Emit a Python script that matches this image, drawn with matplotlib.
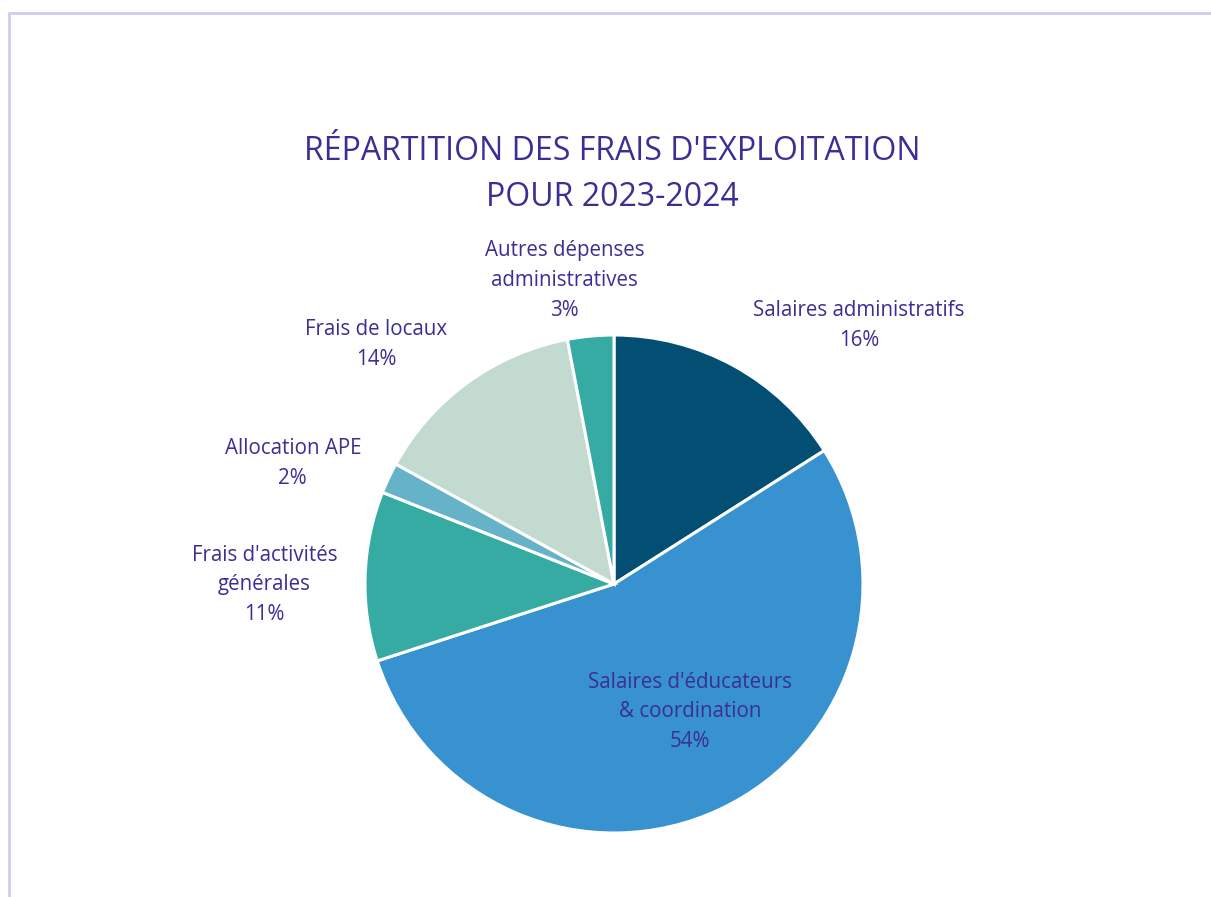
import matplotlib
matplotlib.use("Agg")
import matplotlib.pyplot as plt
from matplotlib.patches import Rectangle

# donnees
categories = ["Salaires administratifs", "Salaires d'éducateurs\n& coordination",
              "Frais d'activités\ngénérales", "Allocation APE",
              "Frais de locaux", "Autres dépenses\nadministratives"]
values = [16, 54, 11, 2, 14, 3]
colors = ["#034F73", "#3892CF", "#36ABA3", "#66B3C9", "#C2DACF", "#36ABA3"]

# position des etiquettes (en rayons, centre du camembert = 0,0)
label_pos = [(0.984, 1.038), (0.306, -0.514), (-1.403, -0.004),
             (-1.290, 0.484), (-0.956, 0.962), (-0.198, 1.218)]

txt_color = "#3A2F94"
plt.rcParams['font.family'] = ['Open Sans', 'DejaVu Sans']

W, H = 1211, 897
cx, cy, R = 614, 584, 249

fig = plt.figure(figsize=(W/100, H/100), dpi=100, facecolor="white")
ax = fig.add_axes([0, 0, 1, 1])
ax.axis("off")

ax.pie(values, colors=colors, startangle=90, counterclock=False, radius=1,
       wedgeprops=dict(edgecolor="white", linewidth=2.2))
ax.set_xlim(-cx/R, (W-cx)/R)
ax.set_ylim((cy-H)/R, cy/R)

for cat, v, (lx, ly) in zip(categories, values, label_pos):
    ax.text(lx, ly, f"{cat}\n{v}%", ha="center", va="center", fontsize=14.8,
            color=txt_color, linespacing=1.55)

fig.text(612/W, 1-152/H, "RÉPARTITION DES FRAIS D'EXPLOITATION", ha="center",
         va="center", fontsize=23, color=txt_color)
fig.text(612/W, 1-198/H, "POUR 2023-2024", ha="center", va="center",
         fontsize=23, color=txt_color)

# cadre
fig.patches.append(Rectangle((9/W, -0.1), 1.1, 1-13/H+0.1, transform=fig.transFigure,
                             fill=False, edgecolor="#D0CCEE", linewidth=2))

fig.savefig("out.png", dpi=100)
